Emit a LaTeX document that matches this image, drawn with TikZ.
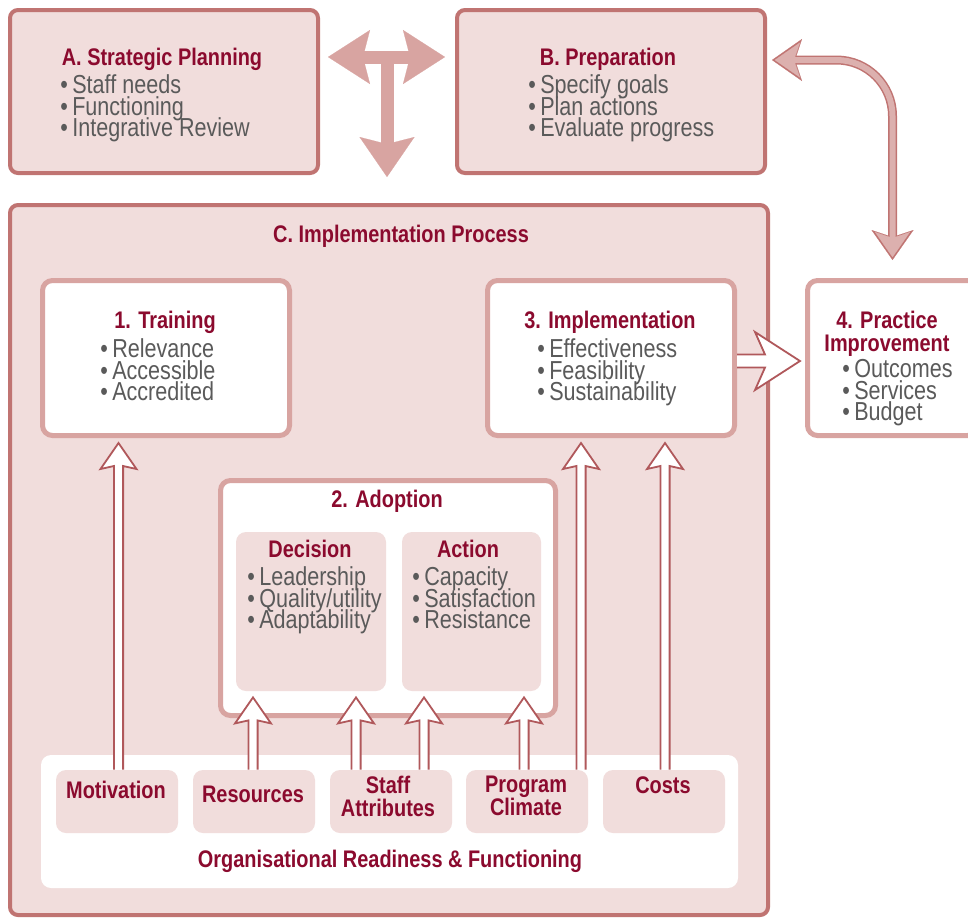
\documentclass[tikz,border=0pt]{standalone}
\usepackage{fontspec}
\setmainfont[FakeStretch=0.83]{Liberation Sans}
\usetikzlibrary{arrows.meta,calc}
\definecolor{pinkfill}{HTML}{F1DDDC}
\definecolor{darkrim}{HTML}{C07472}
\definecolor{lightrim}{HTML}{D8A4A1}
\definecolor{arrowrim}{HTML}{B0585B}
\definecolor{curvefill}{HTML}{DCB0AE}
\definecolor{crimson}{HTML}{8B0A2E}
\definecolor{greytext}{HTML}{5A5A5A}
\newcommand{\itm}{\textbullet\,}
\newcommand{\tightlines}{\lineskiplimit=-20pt\relax}
\begin{document}
\begin{tikzpicture}[x=0.5pt, y=-0.5pt]
    \tikzstyle{outer box}=[draw=darkrim, fill=pinkfill, line width=2pt, rounded corners=4pt]
    \tikzstyle{inner box}=[draw=lightrim, fill=white, line width=2.5pt, rounded corners=5pt]
    \tikzstyle{sub box}=[fill=pinkfill, rounded corners=5pt]
    \tikzstyle{head}=[text=crimson, font=\fontsize{12}{11.5}\selectfont\bfseries\tightlines, align=center, inner sep=0pt]
    \tikzstyle{items}=[text=greytext, font=\fontsize{13}{10.75}\selectfont\tightlines, align=left, inner sep=0pt, anchor=north west]
    \tikzstyle{big arrow}=[draw=lightrim, line width=6.5pt]
    \tikzstyle{up arrow}=[draw=arrowrim, fill=white, line width=0.9pt, to path={
      let \p1=(\tikztostart), \p2=(\tikztotarget) in
      (\x1-2.3pt,\y1) -- (\x1-2.3pt,\y2-11.5pt) -- (\x1-9pt,\y2-13pt) -- (\x1,\y2)
      -- (\x1+9pt,\y2-13pt) -- (\x1+2.3pt,\y2-11.5pt) -- (\x1+2.3pt,\y1)}]
    \tikzstyle{right arrow}=[draw=arrowrim, fill=white, line width=0.9pt, to path={
      let \p1=(\tikztostart), \p2=(\tikztotarget) in
      (\x1,\y1+3.25pt) -- (\x2-17.5pt,\y1+3.25pt) -- (\x2-22.5pt,\y1+14.5pt) -- (\x2,\y1)
      -- (\x2-22.5pt,\y1-14.5pt) -- (\x2-17.5pt,\y1-3.25pt) -- (\x1,\y1-3.25pt)}]
    \useasboundingbox (0,0) rectangle (968,918);

    % boxes
    \node[outer box, minimum width=154pt, minimum height=81.5pt] (strat) at (164,91.5) {};
    \node[outer box, minimum width=154pt, minimum height=81.5pt] (prep) at (611,91.5) {};
    \node[outer box, minimum width=379pt, minimum height=355pt] (process) at (389,560) {};
    \node[inner box, minimum width=123.5pt, minimum height=77.5pt] (train) at (166,358) {};
    \node[inner box, minimum width=123.5pt, minimum height=77.5pt] (impl) at (611,358) {};
    \node[inner box, minimum width=85pt, minimum height=77.5pt] (practice) at (892.5,358) {};
    \node[inner box, minimum width=167.5pt, minimum height=117.5pt] (adopt) at (388,598) {};
    \node[sub box, minimum width=75pt, minimum height=79.5pt] (decide) at (311,611.5) {};
    \node[sub box, minimum width=69.5pt, minimum height=79.5pt] (act) at (471.5,611.5) {};
    \node[fill=white, rounded corners=5pt, minimum width=348.5pt, minimum height=66.5pt] (ready) at (389.5,821.5) {};
    \node[sub box, minimum width=61pt, minimum height=31.5pt] (motiv) at (117,801.5) {};
    \node[sub box, minimum width=61pt, minimum height=31.5pt] (resour) at (254,801.5) {};
    \node[sub box, minimum width=61pt, minimum height=31.5pt] (staff) at (391,801.5) {};
    \node[sub box, minimum width=61pt, minimum height=31.5pt] (climate) at (527,801.5) {};
    \node[sub box, minimum width=61pt, minimum height=31.5pt] (costs) at (664,801.5) {};

    % texts
    \node[head, anchor=base] (stratH) at (162,65) {A. Strategic Planning};
    \node[items] (stratL) at (60,74.3) {\itm Staff needs\\\itm Functioning\\\itm Integrative Review};
    \node[head, anchor=base] (prepH) at (608,65) {B. Preparation};
    \node[items] (prepL) at (528,74.3) {\itm Specify goals\\\itm Plan actions\\\itm Evaluate progress};
    \node[head, anchor=base] (processH) at (401,242) {C. Implementation Process};
    \node[head, anchor=base] (trainH) at (165,328) {1. Training};
    \node[items] (trainL) at (100,338.3) {\itm Relevance\\\itm Accessible\\\itm Accredited};
    \node[head, anchor=base] (implH) at (610,328) {3. Implementation};
    \node[items] (implL) at (537,338.3) {\itm Effectiveness\\\itm Feasibility\\\itm Sustainability};
    \node[head, anchor=north] (practiceH) at (887,310.5) {4. Practice\\Improvement};
    \node[items] (practiceL) at (842,359.3) {\itm Outcomes\\\itm Services\\\itm Budget};
    \node[head, anchor=base] (adoptH) at (387,507) {2. Adoption};
    \node[head, anchor=base] (decideH) at (310,557) {Decision};
    \node[items] (decideL) at (247,566.3) {\itm Leadership\\\itm Quality/utility\\\itm Adaptability};
    \node[head, anchor=base] (actH) at (468,557) {Action};
    \node[items] (actL) at (412,566.3) {\itm Capacity\\\itm Satisfaction\\\itm Resistance};
    \node[head, anchor=base] (motivH) at (116,798) {Motivation};
    \node[head, anchor=base] (resourH) at (253,802) {Resources};
    \node[head, anchor=north] (staffH) at (388,775.5) {Staff\\Attributes};
    \node[head, anchor=north] (climateH) at (526,775.5) {Program\\Climate};
    \node[head, anchor=base] (costsH) at (663,793) {Costs};
    \node[head, anchor=base] (readyH) at (390,867) {Organisational Readiness \& Functioning};

    % connectors
    \coordinate (tW) at ([shift={(8,-34.5)}]strat.east);
    \coordinate (tE) at ([shift={(-10,-34.5)}]prep.west);
    \coordinate (tS) at ([shift={(-2,-26)}]process.north);
    \coordinate (tM) at (tW -| tS);
    \draw[big arrow, {Stealth[length=21pt, width=27pt, inset=3.5pt, line width=0.1pt]}-{Stealth[length=21pt, width=27pt, inset=3.5pt, line width=0.1pt]}] (tW) -- (tE);
    \draw[big arrow, -{Stealth[length=20pt, width=27.5pt, inset=3.5pt, line width=0.1pt]}] (tM) -- (tS);

    \coordinate (cW) at ([shift={(5,-31.5)}]prep.east);
    \coordinate (cS) at ([shift={(0,-18)}]practice.north);
    \draw[darkrim, line width=4.5pt, rounded corners=28pt, {Stealth[length=15pt, width=21pt, inset=3.5pt, line width=0.1pt]}-{Stealth[length=15pt, width=21pt, inset=3.5pt, line width=0.1pt]}] (cW) -| (cS);
    \draw[curvefill, line width=3pt, rounded corners=28pt, shorten <=1.4pt, shorten >=1.4pt, {Stealth[length=12.6pt, width=17.5pt, inset=3pt, line width=0.1pt]}-{Stealth[length=12.6pt, width=17.5pt, inset=3pt, line width=0.1pt]}] (cW) -| (cS);

    \draw[right arrow] ([yshift=-1.5pt]impl.east) to ([xshift=-2.5pt,yshift=-1.5pt]practice.west);
    \draw[up arrow] ([xshift=0.75pt]motiv.north) to ([yshift=-2.5pt]train.south);
    \draw[up arrow] ([xshift=-0.5pt]resour.north) to ([yshift=-3pt]decide.south);
    \draw[up arrow] ([xshift=-17.5pt]staff.north) to ([yshift=-3pt]decide.south);
    \draw[up arrow] ([xshift=16.5pt]staff.north) to ([yshift=-3pt]act.south);
    \draw[up arrow] ([xshift=-1.5pt]climate.north) to ([yshift=-3pt]act.south);
    \draw[up arrow] ([xshift=27pt]climate.north) to ([yshift=-2.5pt]impl.south);
    \draw[up arrow] ([xshift=0.5pt]costs.north) to ([yshift=-2.5pt]impl.south);
\end{tikzpicture}
\end{document}
